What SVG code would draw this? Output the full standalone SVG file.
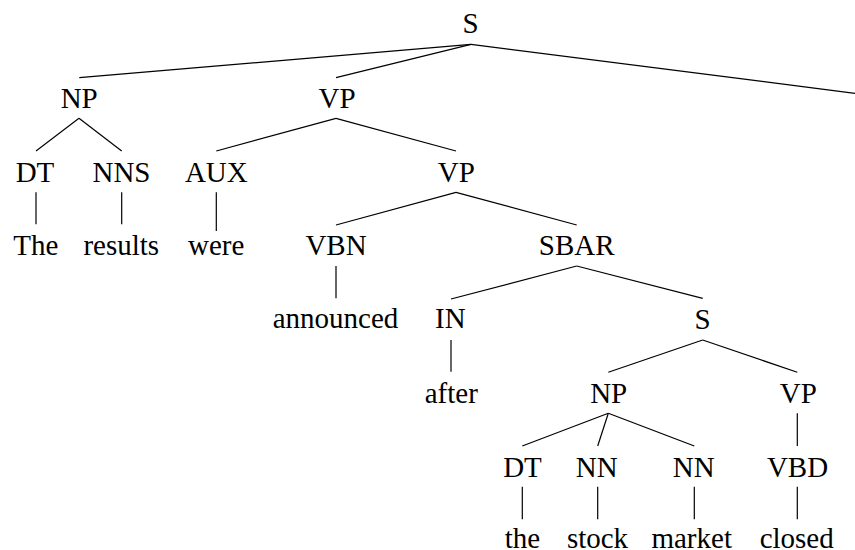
<svg xmlns="http://www.w3.org/2000/svg" width="855" height="550" viewBox="0 0 855 550">
  <style>
    .lbl { font-size: 29px; fill: #000; text-anchor: middle; }
    .edge { stroke: #000; stroke-width: 1.2; fill: none; stroke-linecap: butt; }
  </style>
  <rect width="855" height="550" fill="#fff"/>

  <!-- tree edges -->
  <g id="edges" class="edge">
    <line x1="471" y1="44.3" x2="79.3" y2="77.7"/>
    <line x1="471" y1="44.3" x2="336" y2="77.7"/>
    <line x1="471" y1="44.3" x2="855" y2="93.3"/>
    <line x1="79" y1="118.3" x2="36" y2="151"/>
    <line x1="79" y1="118.3" x2="121.7" y2="151"/>
    <line x1="336" y1="118.3" x2="216.3" y2="151"/>
    <line x1="336" y1="118.3" x2="456" y2="151"/>
    <line x1="36" y1="192.3" x2="36" y2="224.3"/>
    <line x1="121.7" y1="192.3" x2="121.7" y2="224.3"/>
    <line x1="216.3" y1="192.3" x2="216.3" y2="231"/>
    <line x1="456" y1="192.3" x2="336" y2="225"/>
    <line x1="456" y1="192.3" x2="576.7" y2="225"/>
    <line x1="336" y1="266" x2="336" y2="298.3"/>
    <line x1="576.7" y1="266" x2="451" y2="299"/>
    <line x1="576.7" y1="266" x2="702.7" y2="298.3"/>
    <line x1="451" y1="340" x2="451" y2="371.7"/>
    <line x1="702.7" y1="340" x2="608.3" y2="372.3"/>
    <line x1="702.7" y1="340" x2="797.3" y2="372.3"/>
    <line x1="608.3" y1="413.3" x2="522.3" y2="446"/>
    <line x1="608.3" y1="413.3" x2="597.7" y2="446"/>
    <line x1="608.3" y1="413.3" x2="694.3" y2="446"/>
    <line x1="797.3" y1="413.3" x2="797.3" y2="446"/>
    <line x1="522.3" y1="486.7" x2="522.3" y2="519.3"/>
    <line x1="597.7" y1="486.7" x2="597.7" y2="519.3"/>
    <line x1="694.3" y1="486.7" x2="694.3" y2="519.3"/>
    <line x1="797.3" y1="486.7" x2="797.3" y2="519.3"/>
  </g>

  <!-- tree nodes -->
  <g font-family="Liberation Serif, Tinos, DejaVu Serif, serif">
  <g id="n-S"><text class="lbl" x="470.5" y="33.3">S</text></g>
  <g id="n-NP"><text class="lbl" x="79.2" y="108.3">NP</text></g>
  <g id="n-VP"><text class="lbl" x="337" y="108.3">VP</text></g>
  <g id="n-DT"><text class="lbl" x="35" y="182.3">DT</text></g>
  <g id="n-NNS"><text class="lbl" x="121.5" y="182.3">NNS</text></g>
  <g id="n-AUX"><text class="lbl" x="216.3" y="182.3">AUX</text></g>
  <g id="n-VP2"><text class="lbl" x="456.3" y="182">VP</text></g>
  <g id="w-The"><text class="lbl" x="35.8" y="255">The</text></g>
  <g id="w-results"><text class="lbl" x="121.3" y="255">results</text></g>
  <g id="w-were"><text class="lbl" x="216.2" y="255">were</text></g>
  <g id="n-VBN"><text class="lbl" x="336" y="255">VBN</text></g>
  <g id="n-SBAR"><text class="lbl" x="576.7" y="255">SBAR</text></g>
  <g id="w-announced"><text class="lbl" x="335.5" y="328.3">announced</text></g>
  <g id="n-IN"><text class="lbl" x="450.3" y="328.3">IN</text></g>
  <g id="n-S2"><text class="lbl" x="702.5" y="329">S</text></g>
  <g id="w-after"><text class="lbl" x="451.3" y="402.7">after</text></g>
  <g id="n-NP2"><text class="lbl" x="608.7" y="402.7">NP</text></g>
  <g id="n-VP3"><text class="lbl" x="798.3" y="402.7">VP</text></g>
  <g id="n-DT2"><text class="lbl" x="522.5" y="476.7">DT</text></g>
  <g id="n-NN1"><text class="lbl" x="596.7" y="476.7">NN</text></g>
  <g id="n-NN2"><text class="lbl" x="693.7" y="476.7">NN</text></g>
  <g id="n-VBD"><text class="lbl" x="797.5" y="476.7">VBD</text></g>
  <g id="w-the"><text class="lbl" x="522.5" y="547.5">the</text></g>
  <g id="w-stock"><text class="lbl" x="597.5" y="547.5">stock</text></g>
  <g id="w-market"><text class="lbl" x="691.7" y="547.5">market</text></g>
  <g id="w-closed"><text class="lbl" x="796.7" y="547.5">closed</text></g>
  </g>
</svg>
